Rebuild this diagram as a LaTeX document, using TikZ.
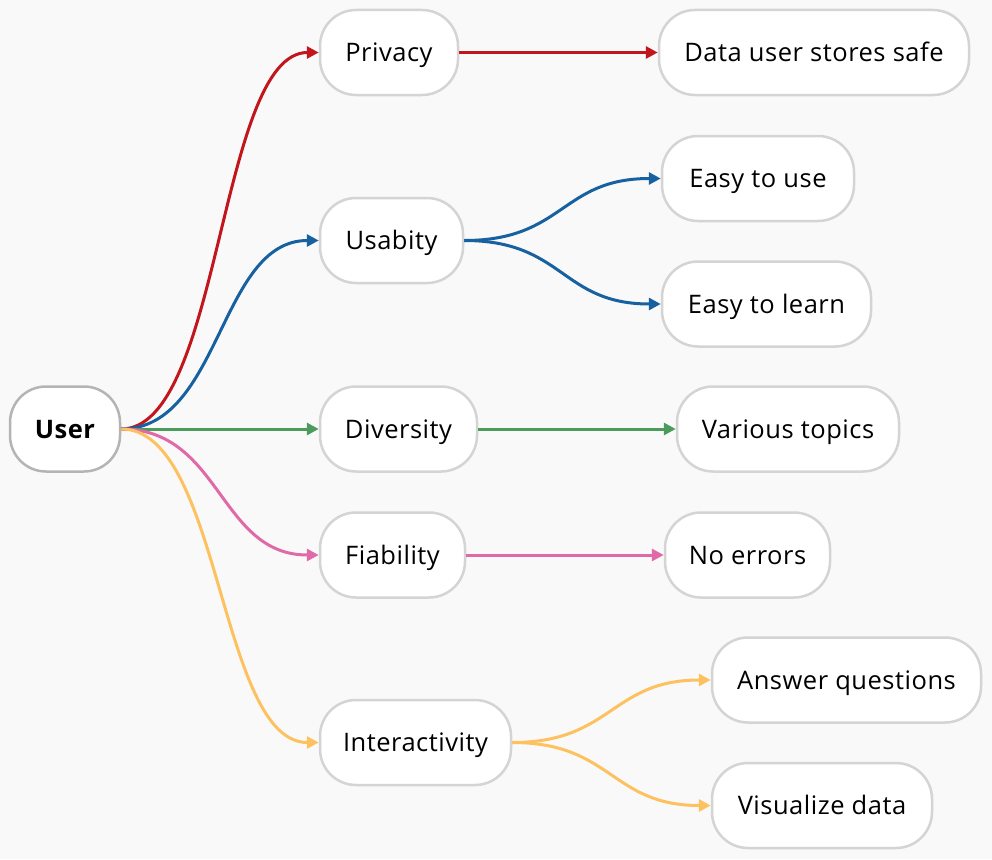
\documentclass[tikz,border=0pt]{standalone}
\usepackage{fontspec}
\setmainfont[LetterSpace=2]{Open Sans}
\usetikzlibrary{arrows.meta}
\definecolor{bg}{HTML}{F9F9F9}
\definecolor{bord}{HTML}{D4D4D4}
\definecolor{rootbord}{HTML}{B4B4B4}
\definecolor{cred}{HTML}{C0161C}
\definecolor{cblue}{HTML}{1761A0}
\definecolor{cgreen}{HTML}{4A9B5C}
\definecolor{cpink}{HTML}{E06AA8}
\definecolor{corange}{HTML}{FDC25F}
\begin{document}
\begin{tikzpicture}[x=1pt,y=-1pt,
  box/.style={draw=bord,line width=2.5pt,fill=white,rounded corners=36pt,
    minimum height=85pt,inner sep=0pt,text height=18pt,text depth=0pt,
    font=\fontsize{25.5}{29}\selectfont},
  rootbox/.style={box,draw=rootbord,font=\fontsize{25.5}{29}\selectfont\bfseries},
  link/.style={line width=3pt,-{Triangle[length=12pt,width=12pt]}},
]
\fill[bg] (0,0) rectangle (992,859);
\useasboundingbox (0,0) rectangle (992,859);

\node[rootbox,minimum width=110pt] (user) at (65,429) {User};
\node[box,minimum width=138pt] (privacy) at (389,52.5) {Privacy};
\node[box,minimum width=310pt] (data) at (814,52.5) {Data user stores safe};
\node[box,minimum width=143pt] (usab) at (391.5,240.5) {Usabity};
\node[box,minimum width=192pt] (euse) at (758,178.5) {Easy to use};
\node[box,minimum width=209pt] (elearn) at (766.5,304) {Easy to learn};
\node[box,minimum width=157pt] (div) at (398.5,429) {Diversity};
\node[box,minimum width=222pt] (topics) at (788,429) {Various topics};
\node[box,minimum width=145pt] (fiab) at (392.5,555) {Fiability};
\node[box,minimum width=165pt] (noerr) at (747.5,555) {No errors};
\node[box,minimum width=191pt] (inter) at (415.5,742.5) {Interactivity};
\node[box,minimum width=269pt] (answer) at (846.5,680) {Answer questions};
\node[box,minimum width=220pt] (visual) at (822,805.5) {Visualize data};

\draw[link,cred] (user.east) .. controls +(100,0) and +(-100,0) .. (privacy.west);
\draw[link,cblue] (user.east) .. controls +(100,0) and +(-100,0) .. (usab.west);
\draw[link,cgreen] (user.east) -- (div.west);
\draw[link,cpink] (user.east) .. controls +(100,0) and +(-100,0) .. (fiab.west);
\draw[link,corange] (user.east) .. controls +(100,0) and +(-100,0) .. (inter.west);

\draw[link,cred] (privacy.east) -- (data.west);
\draw[link,cblue] (usab.east) .. controls +(100,0) and +(-100,0) .. (euse.west);
\draw[link,cblue] (usab.east) .. controls +(100,0) and +(-100,0) .. (elearn.west);
\draw[link,cgreen] (div.east) -- (topics.west);
\draw[link,cpink] (fiab.east) -- (noerr.west);
\draw[link,corange] (inter.east) .. controls +(100,0) and +(-100,0) .. (answer.west);
\draw[link,corange] (inter.east) .. controls +(100,0) and +(-100,0) .. (visual.west);
\end{tikzpicture}
\end{document}
